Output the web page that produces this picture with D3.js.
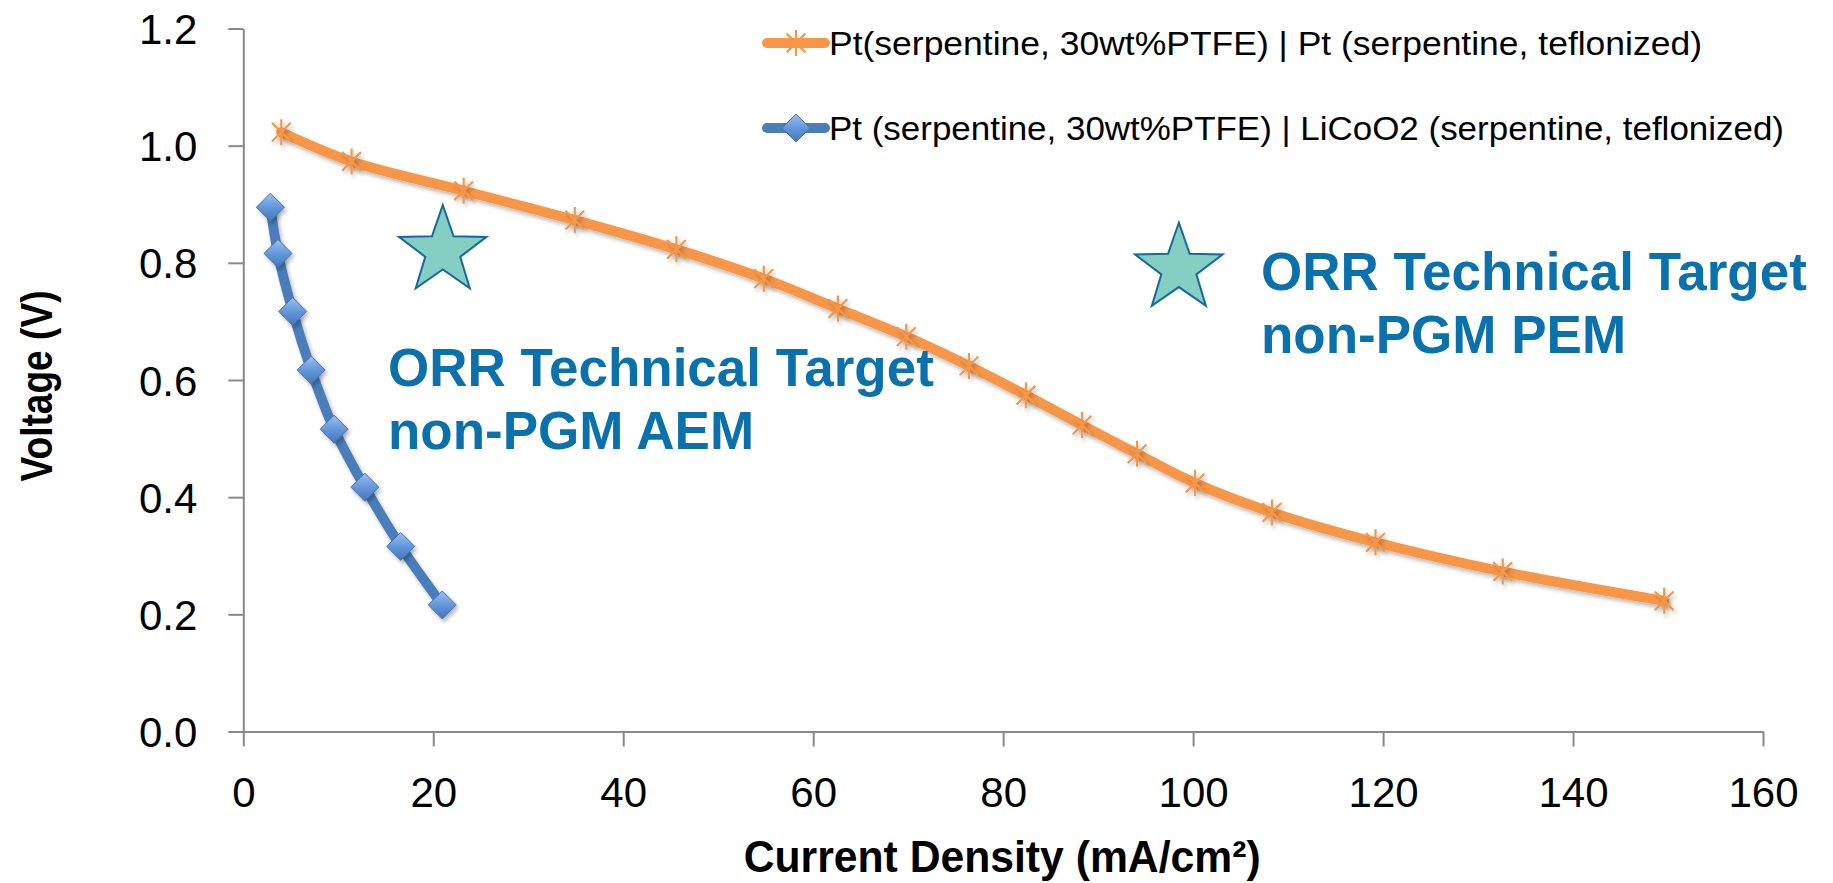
<!DOCTYPE html>
<html>
<head>
<meta charset="utf-8">
<script src="https://cdn.jsdelivr.net/npm/d3@7"></script>
<style>
  html, body { margin: 0; padding: 0; background: #ffffff; }
  svg { display: block; }
</style>
</head>
<body>
<svg id="chart" width="1833" height="883"></svg>
<script>
// ---------------- DATA ----------------
const ptX = [4.0, 11.4, 23.2, 34.9, 45.6, 54.8, 62.6, 69.8, 76.4, 82.4, 88.3, 94.1, 100.2, 108.3, 119.2, 132.6, 149.6];
const ptY = [1.023, 0.973, 0.923, 0.873, 0.823, 0.773, 0.722, 0.674, 0.624, 0.574, 0.523, 0.474, 0.424, 0.374, 0.323, 0.273, 0.223];
const licoX = [2.85, 3.65, 5.2, 7.15, 9.56, 12.8, 16.57, 20.95];
const licoY = [0.895, 0.816, 0.717, 0.617, 0.516, 0.417, 0.316, 0.216];
const targetX = [21.0, 98.5];
const targetY = [0.82, 0.79];
const xTicks = [0, 20, 40, 60, 80, 100, 120, 140, 160];
const yTicks = [0.0, 0.2, 0.4, 0.6, 0.8, 1.0, 1.2];
const seriesNames = [
  "Pt(serpentine, 30wt%PTFE) | Pt (serpentine, teflonized)",
  "Pt (serpentine, 30wt%PTFE) | LiCoO2 (serpentine, teflonized)"
];
const annotations = [
  ["ORR Technical Target", "non-PGM AEM"],
  ["ORR Technical Target", "non-PGM PEM"]
];
const xTitle = "Current Density (mA/cm²)";
const yTitle = "Voltage (V)";

// ---------------- LAYOUT ----------------
(function () {
const svg = d3.select("#chart");
const pLeft = 243.3, pRight = 1763, pTop = 28.5, pBottom = 731.5;
const x = d3.scaleLinear().domain([0, 160]).range([pLeft, pRight]);
const y = d3.scaleLinear().domain([0, 1.2]).range([pBottom, pTop]);

const ORANGE = "#F79646", BLUE = "#4A7EBB", AXIS = "#898989", ANNOT = "#0A71AD";
const FONT = "'Liberation Sans', Arial, sans-serif";

const defs = svg.append("defs");
const sh = defs.append("filter").attr("id", "shadow")
  .attr("x", "-20%").attr("y", "-20%").attr("width", "140%").attr("height", "140%");
sh.append("feDropShadow").attr("dx", 2).attr("dy", 3).attr("stdDeviation", 2.2)
  .attr("flood-color", "#000").attr("flood-opacity", 0.28);
const grad = defs.append("linearGradient").attr("id", "diamondGrad")
  .attr("x1", 0).attr("y1", 0).attr("x2", 0).attr("y2", 1);
grad.append("stop").attr("offset", "0%").attr("stop-color", "#9CC0F0");
grad.append("stop").attr("offset", "55%").attr("stop-color", "#5F93D8");
grad.append("stop").attr("offset", "100%").attr("stop-color", "#4677BA");

// ---------------- AXES ----------------
const gx = svg.append("g").attr("transform", `translate(0,${pBottom})`)
  .call(d3.axisBottom(x).tickValues(xTicks).tickFormat(d3.format("d"))
    .tickSize(15).tickSizeOuter(0).tickPadding(30.5));
const gy = svg.append("g").attr("transform", `translate(${pLeft},0)`)
  .call(d3.axisLeft(y).tickValues(yTicks).tickFormat(d3.format(".1f"))
    .tickSize(15).tickSizeOuter(0).tickPadding(31));
[gx, gy].forEach(g => {
  g.select(".domain").attr("stroke", AXIS).attr("stroke-width", 2);
  g.selectAll(".tick line").attr("stroke", AXIS).attr("stroke-width", 2);
  g.selectAll(".tick text").attr("fill", "#000")
    .style("font-family", FONT).style("font-size", "42px");
});
gy.selectAll(".tick text").attr("dy", "0.36em");
gx.selectAll(".tick text").attr("dy", "0.71em");

// axis titles
svg.append("text").text(xTitle)
  .attr("x", (pLeft + pRight) / 2 - 1).attr("y", 872)
  .attr("text-anchor", "middle")
  .attr("textLength", 517).attr("lengthAdjust", "spacingAndGlyphs")
  .style("font-family", FONT).style("font-weight", "bold").style("font-size", "44px");
svg.append("text").text(yTitle)
  .attr("transform", `translate(52,386) rotate(-90)`)
  .attr("text-anchor", "middle")
  .attr("textLength", 191).attr("lengthAdjust", "spacingAndGlyphs")
  .style("font-family", FONT).style("font-weight", "bold").style("font-size", "44px");

// ---------------- SERIES ----------------
const ptData = ptX.map((v, i) => ({ x: v, y: ptY[i] }));
const licoData = licoX.map((v, i) => ({ x: v, y: licoY[i] }));
const line = d3.line().x(d => x(d.x)).y(d => y(d.y)).curve(d3.curveCatmullRom.alpha(0.5));

const plot = svg.append("g");
const asterisk = (g, r) => {
  const k = r * 0.72;
  const d = `M0,${-r}L0,${r}M${-k},${-k}L${k},${k}M${-k},${k}L${k},${-k}`;
  g.append("path").attr("d", d).attr("stroke", ORANGE).attr("stroke-width", 2.2).attr("fill", "none");
};
const diamond = (g, r) => {
  g.append("path").attr("d", `M0,${-r}L${r},0L0,${r}L${-r},0Z`)
    .attr("fill", "url(#diamondGrad)").attr("stroke", "#4471AE").attr("stroke-width", 1);
};

// orange series
plot.append("path").datum(ptData).attr("d", line)
  .attr("fill", "none").attr("stroke", ORANGE).attr("stroke-width", 10)
  .attr("stroke-linejoin", "round").attr("stroke-linecap", "round").attr("filter", "url(#shadow)");
plot.selectAll("g.ptm").data(ptData).join("g").attr("class", "ptm")
  .attr("transform", d => `translate(${x(d.x)},${y(d.y)})`)
  .attr("filter", "url(#shadow)")
  .each(function () { asterisk(d3.select(this), 13); });

// blue series
plot.append("path").datum(licoData).attr("d", line)
  .attr("fill", "none").attr("stroke", BLUE).attr("stroke-width", 10)
  .attr("stroke-linejoin", "round").attr("stroke-linecap", "round").attr("filter", "url(#shadow)");
plot.selectAll("g.lim").data(licoData).join("g").attr("class", "lim")
  .attr("transform", d => `translate(${x(d.x)},${y(d.y)})`)
  .attr("filter", "url(#shadow)")
  .each(function () { diamond(d3.select(this), 14); });

// ---------------- TARGET STARS ----------------
const starPath = (R) => {
  const r = R * 0.40;
  const pts = [];
  for (let i = 0; i < 10; i++) {
    const a = -Math.PI / 2 + i * Math.PI / 5;
    const rr = i % 2 === 0 ? R : r;
    pts.push([rr * Math.cos(a), rr * Math.sin(a)]);
  }
  return "M" + pts.map(p => p.join(",")).join("L") + "Z";
};
svg.selectAll("path.star").data(targetX.map((v, i) => ({ x: v, y: targetY[i] })))
  .join("path").attr("class", "star")
  .attr("d", starPath(46))
  .attr("transform", d => `translate(${x(d.x)},${y(d.y)})`)
  .attr("fill", "#84CFC1").attr("stroke", "#1668A3").attr("stroke-width", 2);

// ---------------- ANNOTATIONS ----------------
const annPos = [[388, 386], [1261, 290]];
annotations.forEach((lines, i) => {
  const t = svg.append("text")
    .attr("x", annPos[i][0]).attr("y", annPos[i][1])
    .attr("fill", ANNOT)
    .style("font-family", FONT).style("font-weight", "bold").style("font-size", "53px");
  lines.forEach((s, j) => {
    t.append("tspan").attr("x", annPos[i][0]).attr("y", annPos[i][1] + j * 63).text(s);
  });
});

// ---------------- LEGEND ----------------
const legY = [43, 128];
const legW = [873, 955];
const legend = svg.append("g");
seriesNames.forEach((name, i) => {
  const g = legend.append("g").attr("transform", `translate(0,${legY[i]})`);
  g.append("line").attr("x1", 767).attr("x2", 825).attr("y1", 0).attr("y2", 0)
    .attr("stroke", i === 0 ? ORANGE : BLUE).attr("stroke-width", 10).attr("stroke-linecap", "round");
  const m = g.append("g").attr("transform", "translate(796,0)");
  if (i === 0) asterisk(m, 13); else diamond(m, 14);
  g.append("text").text(name).attr("x", 829).attr("y", 11.5)
    .attr("textLength", legW[i]).attr("lengthAdjust", "spacingAndGlyphs")
    .style("font-family", FONT).style("font-size", "32.5px").attr("fill", "#000");
});
})();
</script>
</body>
</html>
